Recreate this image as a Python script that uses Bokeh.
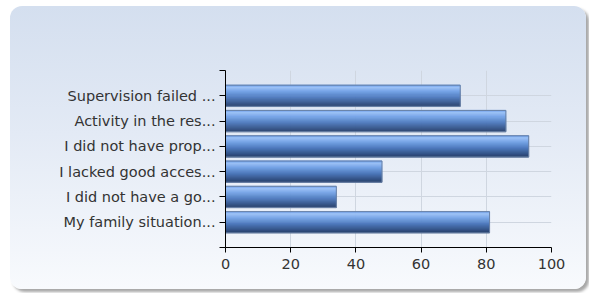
from bokeh.plotting import figure
from bokeh.models import FixedTicker, Range1d
from bokeh.embed import file_html
from bokeh.resources import INLINE

categories = [
    "Supervision failed ...",
    "Activity in the res...",
    "I did not have prop...",
    "I lacked good acces...",
    "I did not have a go...",
    "My family situation...",
]
values = [72, 86, 93, 48, 34, 81]
x_ticks = [0, 20, 40, 60, 80, 100]

n = len(categories)
ypos = [n - i for i in range(n)]

p = figure(width=576, height=283, output_backend="svg", toolbar_location=None,
           x_range=Range1d(0, 100), y_range=Range1d(0, n + 1))
p.min_border_left = 215
p.min_border_right = 35
p.min_border_top = 64
p.min_border_bottom = 42
p.outline_line_color = None
p.background_fill_color = None
p.border_fill_color = None
p.styles = {
    "background": "linear-gradient(to bottom, #d4dfef 0%, #e3eaf5 45%, #f8fafd 100%)",
    "border-radius": "12px",
    "box-shadow": "3px 3px 3px rgba(0,0,0,0.35)",
    "margin-left": "10px",
    "margin-top": "6px",
}

bar_h = 0.84
stops = [(0.0, (0x5a, 0x93, 0xe6)), (0.12, (0x9d, 0xc2, 0xf6)), (0.3, (0x78, 0xa6, 0xe8)),
         (0.6, (0x4f, 0x7a, 0xbd)), (1.0, (0x2a, 0x43, 0x6e))]

def col_at(t):
    for (t0, c0), (t1, c1) in zip(stops[:-1], stops[1:]):
        if t0 <= t <= t1:
            f = (t - t0) / (t1 - t0)
            return "#%02x%02x%02x" % tuple(int(round(a + (b - a) * f)) for a, b in zip(c0, c1))
    return "#%02x%02x%02x" % stops[-1][1]

nstrips = 21
sh = bar_h / nstrips
for k in range(nstrips):
    t = (k + 0.5) / nstrips
    ys = [y + bar_h / 2 - (k + 0.5) * sh for y in ypos]
    p.hbar(y=ys, right=values, left=0, height=sh * 1.3, fill_color=col_at(t),
           line_color=col_at(t), line_width=0.5)
p.hbar(y=ypos, right=values, left=0, height=bar_h, fill_color=None, line_color="#6a82a6", line_width=1)

p.xaxis.ticker = FixedTicker(ticks=x_ticks)
p.yaxis.ticker = FixedTicker(ticks=list(range(0, n + 2)))
overrides = {0: "", n + 1: ""}
for y, c in zip(ypos, categories):
    overrides[y] = c
p.yaxis.major_label_overrides = overrides

for ax in (p.xaxis, p.yaxis):
    ax.axis_line_color = "black"
    ax.major_tick_line_color = "black"
    ax.minor_tick_line_color = None
    ax.major_tick_in = 0
    ax.major_label_text_font = "DejaVu Sans"
    ax.major_label_text_font_size = "14.5px"
    ax.major_label_text_color = "#333333"
p.xaxis.major_tick_out = 5
p.yaxis.major_tick_out = 6
p.xaxis.major_label_standoff = 6
p.yaxis.major_label_standoff = 4

p.xgrid.ticker = FixedTicker(ticks=x_ticks)
p.ygrid.ticker = FixedTicker(ticks=list(range(0, n + 2)))
p.grid.grid_line_color = "#cfd6e0"
p.grid.grid_line_width = 1

open("out.html", "w").write(file_html(p, INLINE))
